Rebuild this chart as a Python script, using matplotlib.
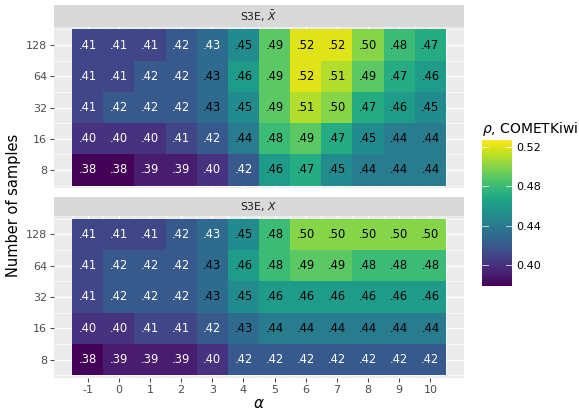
import numpy as np
import matplotlib
matplotlib.use("Agg")
import matplotlib.pyplot as plt
from matplotlib.colors import Normalize

alphas = ["-1", "0", "1", "2", "3", "4", "5", "6", "7", "8", "9", "10"]
samples = ["8", "16", "32", "64", "128"]  # bottom to top

# rows ordered bottom (8) to top (128)
xbar_vals = [
    [0.38, 0.38, 0.39, 0.39, 0.40, 0.42, 0.46, 0.47, 0.45, 0.44, 0.44, 0.44],
    [0.40, 0.40, 0.40, 0.41, 0.42, 0.44, 0.48, 0.49, 0.47, 0.45, 0.44, 0.44],
    [0.41, 0.42, 0.42, 0.42, 0.43, 0.45, 0.49, 0.51, 0.50, 0.47, 0.46, 0.45],
    [0.41, 0.41, 0.42, 0.42, 0.43, 0.46, 0.49, 0.52, 0.51, 0.49, 0.47, 0.46],
    [0.41, 0.41, 0.41, 0.42, 0.43, 0.45, 0.49, 0.52, 0.52, 0.50, 0.48, 0.47],
]
x_vals = [
    [0.38, 0.39, 0.39, 0.39, 0.40, 0.42, 0.42, 0.42, 0.42, 0.42, 0.42, 0.42],
    [0.40, 0.40, 0.41, 0.41, 0.42, 0.43, 0.44, 0.44, 0.44, 0.44, 0.44, 0.44],
    [0.41, 0.42, 0.42, 0.42, 0.43, 0.45, 0.46, 0.46, 0.46, 0.46, 0.46, 0.46],
    [0.41, 0.42, 0.42, 0.42, 0.43, 0.46, 0.48, 0.49, 0.49, 0.48, 0.48, 0.48],
    [0.41, 0.41, 0.41, 0.42, 0.43, 0.45, 0.48, 0.50, 0.50, 0.50, 0.50, 0.50],
]
panel_titles = [r"S3E, $\bar{X}$", r"S3E, $X$"]
cbar_ticks = [0.40, 0.44, 0.48, 0.52]

W, H = 579, 412
fig = plt.figure(figsize=(W / 100, H / 100), dpi=100)
fig.patch.set_facecolor("white")


def box(x0, y0, x1, y1):
    return [x0 / W, 1 - y1 / H, (x1 - x0) / W, (y1 - y0) / H]


norm = Normalize(vmin=0.379, vmax=0.527)
cmap = plt.get_cmap("viridis")
tick_gray = "#4D4D4D"

panels = [
    (box(54, 27, 464, 188), box(54, 5, 464, 27)),
    (box(54, 216, 464, 378), box(54, 197, 464, 216)),
]

for k, (vals, title) in enumerate(zip([xbar_vals, x_vals], panel_titles)):
    pbox, sbox = panels[k]
    data = np.array(vals)
    ax = fig.add_axes(pbox)
    ax.set_facecolor("#EBEBEB")
    nx, ny = len(alphas), len(samples)
    ax.set_xlim(-0.5 - 0.58, nx - 0.5 + 0.58)
    ax.set_ylim(-0.58, ny - 0.42)
    # major and minor grid lines
    for i in range(nx):
        ax.axvline(i, color="white", lw=1.0, zorder=0)
    for i in range(nx + 1):
        ax.axvline(i - 0.5, color="white", lw=0.5, zorder=0)
    for j in range(ny):
        ax.axhline(j, color="white", lw=1.0, zorder=0)
    for j in range(ny + 1):
        ax.axhline(j - 0.5, color="white", lw=0.5, zorder=0)
    xe = np.arange(nx + 1) - 0.5
    ye = np.arange(ny + 1) - 0.5
    ax.pcolormesh(xe, ye, data, cmap=cmap, norm=norm, zorder=1)
    light = data < 0.43
    light[ny - 1, 4] = True
    for j in range(ny):
        for i in range(nx):
            v = data[j, i]
            ax.text(i, j, f"{v:.2f}"[1:], ha="center", va="center",
                    fontsize=8.3, color="white" if light[j, i] else "black",
                    zorder=2)
    for s in ax.spines.values():
        s.set_visible(False)
    ax.set_yticks(range(ny))
    ax.set_yticklabels(samples)
    ax.set_xticks(range(nx))
    if k == 1:
        ax.set_xticklabels(alphas)
    else:
        ax.set_xticklabels([])
    ax.tick_params(axis="both", colors=tick_gray, labelsize=8, length=3,
                   width=0.8, pad=2, labelcolor=tick_gray)
    if k == 0:
        ax.tick_params(axis="x", length=0)

    sax = fig.add_axes(sbox)
    sax.set_facecolor("#D9D9D9")
    sax.set_xticks([])
    sax.set_yticks([])
    for s in sax.spines.values():
        s.set_visible(False)
    sax.text(0.5, 0.5, title, ha="center", va="center", fontsize=7.8,
             color="#1A1A1A", transform=sax.transAxes)

fig.text(259 / W, 1 - 403 / H, r"$\alpha$", ha="center", va="center",
         fontsize=11, color="black")
fig.text(14 / W, 1 - 205 / H, "Number of samples", ha="center", va="center",
         rotation=90, fontsize=10.5, color="black")

# colour bar
cax = fig.add_axes(box(482, 140, 512, 286))
grad = np.linspace(norm.vmin, norm.vmax, 256).reshape(-1, 1)
cax.imshow(grad, cmap=cmap, norm=norm, aspect="auto", origin="lower",
           extent=[0, 1, norm.vmin, norm.vmax])
cax.set_xlim(0, 1)
cax.set_ylim(norm.vmin, norm.vmax)
for t in cbar_ticks:
    cax.plot([0, 0.2], [t, t], color="white", lw=0.6, alpha=0.8)
    cax.plot([0.8, 1], [t, t], color="white", lw=0.6, alpha=0.8)
cax.set_xticks([])
cax.yaxis.tick_right()
cax.set_yticks(cbar_ticks)
cax.set_yticklabels([f"{t:.2f}" for t in cbar_ticks])
cax.tick_params(axis="y", length=0, pad=3, labelsize=8, labelcolor="black")
for s in cax.spines.values():
    s.set_visible(False)
fig.text(482 / W, 1 - 129 / H, r"$\rho$, COMETKiwi", ha="left", va="center",
         fontsize=10, color="black")

fig.savefig("out.png", dpi=100)
